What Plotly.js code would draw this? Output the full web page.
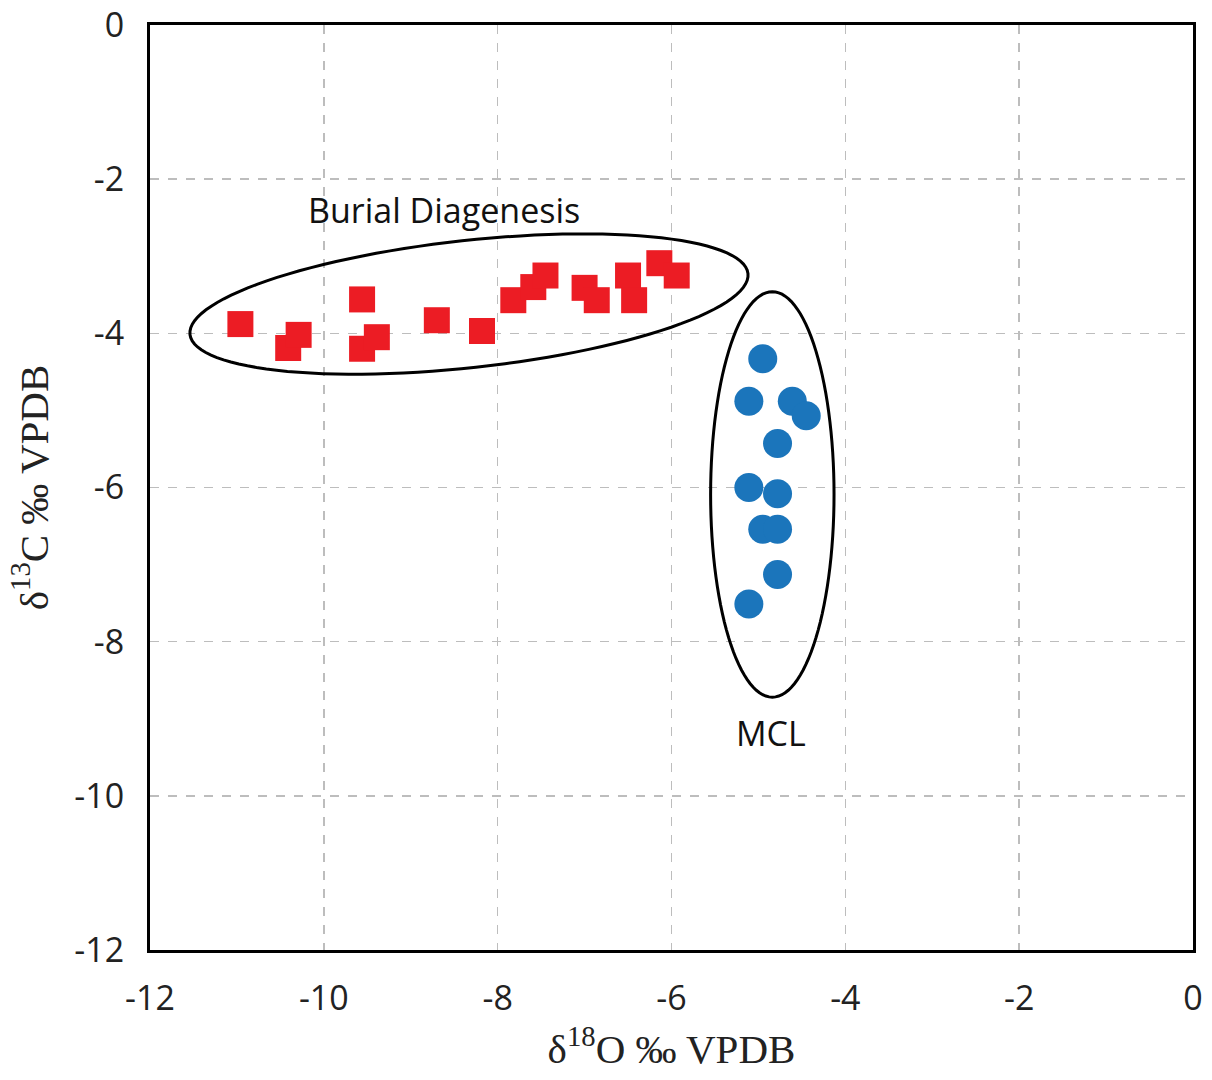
<!DOCTYPE html>
<html>
<head>
<meta charset="utf-8">
<script src="https://cdn.plot.ly/plotly-3.0.1.min.js"></script>
<style>html,body{margin:0;padding:0;background:#fff;}#chart{width:1212px;height:1080px;}</style>
</head>
<body>
<div id="chart"></div>
<script>
// Burial diagenesis samples (red squares)
const burialO = [-10.96, -10.41, -10.29, -9.56, -9.56, -9.39, -8.70, -8.18, -7.82, -7.59, -7.45, -7.00, -6.86, -6.50, -6.43, -6.14, -5.94];
const burialC = [-3.88, -4.19, -4.02, -3.56, -4.20, -4.05, -3.83, -3.97, -3.57, -3.40, -3.25, -3.41, -3.57, -3.25, -3.57, -3.09, -3.25];
// MCL samples (blue circles)
const mclO = [-4.95, -5.11, -4.61, -4.45, -4.78, -5.11, -4.78, -4.95, -4.78, -4.78, -5.11];
const mclC = [-4.33, -4.88, -4.88, -5.07, -5.43, -6.00, -6.08, -6.54, -6.54, -7.13, -7.51];
// Group envelopes: center, conjugate semi-diameters (data units)
const burialEllipse = {center: [-8.33, -3.62], a: [3.21, 0.395], b: [0.08, -0.82]};
const mclEllipse = {center: [-4.84, -6.09], a: [0.71, 0], b: [0, 2.63]};
const groupLabels = ["Burial Diagenesis", "MCL"];
const groupLabelPos = [[-8.62, -2.4], [-4.85, -9.18]];
const tickVals = [-12, -10, -8, -6, -4, -2, 0];
const tickText = ["-12", "-10", "-8", "-6", "-4", "-2", "0"];

function ellipsePath(e) {
  const n = 120;
  let d = "";
  for (let i = 0; i <= n; i++) {
    const t = 2 * Math.PI * i / n;
    const x = e.center[0] + Math.cos(t) * e.a[0] + Math.sin(t) * e.b[0];
    const y = e.center[1] + Math.cos(t) * e.a[1] + Math.sin(t) * e.b[1];
    d += (i === 0 ? "M" : "L") + x.toFixed(4) + "," + y.toFixed(4);
  }
  return d + "Z";
}

const traces = [
  {x: burialO, y: burialC, mode: "markers", type: "scatter", name: "Burial",
   marker: {symbol: "square", size: 26, color: "#ec1c24"}},
  {x: mclO, y: mclC, mode: "markers", type: "scatter", name: "MCL",
   marker: {symbol: "circle", size: 29, color: "#1b75bb"}}
];

const tickFont = {family: "Open Sans, sans-serif", size: 34, color: "#222"};
const titleFont = {family: "Liberation Serif, Times New Roman, serif", size: 41, color: "#222"};

const axisCommon = {
  range: [-12, 0], tickvals: tickVals, ticktext: tickText, showline: true, mirror: true,
  linecolor: "#000", linewidth: 3, showgrid: true, gridcolor: "#bdbdbd",
  gridwidth: 1.5, griddash: "dash", zeroline: false, ticks: "", tickfont: tickFont,
  ticklabeloverflow: "allow"
};

const layout = {
  width: 1212, height: 1080,
  margin: {l: 150, r: 19, t: 25, b: 130},
  paper_bgcolor: "#fff", plot_bgcolor: "#fff",
  showlegend: false,
  xaxis: Object.assign({}, axisCommon, {
    title: {text: "δ<sup>18</sup>O ‰ VPDB", font: titleFont, standoff: 14},
    ticklabelstandoff: 16
  }),
  yaxis: Object.assign({}, axisCommon, {
    title: {text: "δ<sup>13</sup>C ‰ VPDB", font: titleFont, standoff: 14},
    ticklabelstandoff: 16
  }),
  shapes: [
    {type: "path", path: ellipsePath(burialEllipse), xref: "x", yref: "y", line: {color: "#000", width: 3}, layer: "above"},
    {type: "path", path: ellipsePath(mclEllipse), xref: "x", yref: "y", line: {color: "#000", width: 3}, layer: "above"}
  ],
  annotations: groupLabels.map((t, i) => ({
    x: groupLabelPos[i][0], y: groupLabelPos[i][1], xref: "x", yref: "y",
    text: t, showarrow: false,
    font: {family: "Open Sans, Noto Sans, sans-serif", size: 34, color: "#111"}
  }))
};

Plotly.newPlot("chart", traces, layout, {displayModeBar: false, staticPlot: true});
</script>
</body>
</html>
